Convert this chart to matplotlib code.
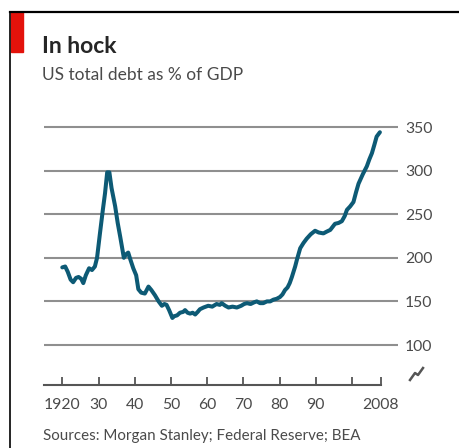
import matplotlib
matplotlib.use("Agg")
import matplotlib.pyplot as plt
from matplotlib.lines import Line2D
from matplotlib.patches import Rectangle

# US total debt as % of GDP
years = [1920.0, 1920.8, 1921.5, 1922.3, 1923.0, 1923.8, 1924.5, 1925.2, 1925.8, 1926.5,
         1927.4, 1928.2, 1929.0, 1929.6, 1930.4, 1931.2, 1931.8, 1932.4, 1933.0, 1933.6,
         1934.6, 1935.3, 1936.0, 1937.0, 1937.6, 1938.2, 1938.8, 1939.6, 1940.4, 1941.0,
         1941.8, 1942.8, 1943.8, 1944.6, 1945.6, 1946.6, 1947.5, 1948.2, 1948.8, 1949.5,
         1950.4, 1950.9, 1951.7, 1952.5, 1953.4, 1953.9, 1954.6, 1955.3, 1956.0, 1956.7,
         1957.4, 1958.0, 1959.0, 1960.3, 1961.4, 1962.6, 1963.5, 1964.0, 1965.0, 1965.9,
         1967.0, 1968.2, 1969.4, 1970.2, 1971.0, 1972.0, 1973.0, 1973.7, 1974.6, 1975.5,
         1976.5, 1977.4, 1978.3, 1979.2, 1980.1, 1980.8, 1981.5, 1982.2, 1982.8, 1983.4,
         1984.3, 1984.8, 1985.7, 1986.6, 1987.5, 1988.6, 1989.8, 1990.8, 1992.1, 1993.0,
         1994.0, 1995.3, 1996.3, 1997.2, 1998.0, 1998.6, 1999.5, 2000.4, 2001.1, 2001.8,
         2003.0, 2004.1, 2004.8, 2005.5, 2006.2, 2006.8, 2007.7]
debt_pct = [189, 190, 184, 175, 172, 177, 178, 176, 171, 180,
            188, 186, 190, 200, 228, 255, 274, 298, 298, 280,
            259, 240, 224, 200, 204, 206, 198, 188, 180, 164,
            160, 159, 167, 163, 157, 150, 145, 147, 146, 140,
            131, 133, 134, 137, 138, 140, 137, 136, 137, 135,
            138, 141, 143, 145, 144, 147, 146, 148, 145, 143,
            144, 143, 145, 147, 148, 147, 149, 150, 148, 148,
            150, 150, 152, 153, 155, 158, 163, 166, 171, 178,
            190, 198, 211, 217, 222, 227, 231, 229, 228, 230,
            232, 239, 240, 242, 248, 255, 259, 264, 275, 285,
            296, 305, 313, 320, 330, 339, 344]

x_ticks = [1920, 1930, 1940, 1950, 1960, 1970, 1980, 1990, 2000, 2008]
x_tick_labels = ["1920", "30", "40", "50", "60", "70", "80", "90", "", "2008"]
y_ticks = [100, 150, 200, 250, 300, 350]
y_tick_labels = ["100", "150", "200", "250", "300", "350"]

title = "In hock"
subtitle = "US total debt as % of GDP"
source = "Sources: Morgan Stanley; Federal Reserve; BEA"

W, H = 459, 448
FONT = "Lato"
LINE_COLOR = "#0d5a75"
GRID_COLOR = "#8f8f8f"
TEXT_COLOR = "#4a4a4a"

fig = plt.figure(figsize=(W / 100, H / 100), dpi=100)
fig.patch.set_facecolor("white")


def fx(px):
    return px / W


def fy(py):
    return 1 - py / H


# plot area in pixel coordinates
left_px, right_px, top_px, bottom_px = 44, 398, 110, 385
ax = fig.add_axes([fx(left_px), fy(bottom_px),
                   (right_px - left_px) / W, (bottom_px - top_px) / H])

ax.plot(years, debt_pct, color=LINE_COLOR, lw=2.9,
        solid_joinstyle="round", solid_capstyle="round", zorder=3)

ax.set_xlim(1914.95, 2012.7)
ax.set_ylim(54.13, 369.5)

ax.set_yticks(y_ticks)
ax.set_yticklabels(y_tick_labels)
ax.yaxis.tick_right()
ax.tick_params(axis="y", length=0, pad=5, labelsize=11.3, labelcolor=TEXT_COLOR)
for lab in ax.get_yticklabels():
    lab.set_fontfamily(FONT)

ax.set_xticks(x_ticks)
ax.set_xticklabels(x_tick_labels)
ax.tick_params(axis="x", direction="in", length=6, width=1.3, color="#555555",
               pad=9, labelsize=11.3, labelcolor=TEXT_COLOR)
for lab in ax.get_xticklabels():
    lab.set_fontfamily(FONT)

ax.grid(axis="y", color=GRID_COLOR, lw=1.5)
ax.set_axisbelow(True)
for side in ["top", "right", "left"]:
    ax.spines[side].set_visible(False)
ax.spines["bottom"].set_bounds(1914.95, 2008)
ax.spines["bottom"].set_color("#555555")
ax.spines["bottom"].set_linewidth(1.5)
ax.set_facecolor("none")

# axis-break mark beside the x axis
brk_x = [fx(p) for p in (410, 415, 418, 423)]
brk_y = [fy(p) for p in (380, 373, 375, 368)]
fig.add_artist(Line2D(brk_x, brk_y, color="#555555", lw=1.8))

# frame, red tag
fig.add_artist(Line2D([fx(10), fx(459)], [fy(12), fy(12)], color="black", lw=1.6))
fig.add_artist(Line2D([fx(10), fx(10)], [fy(12), fy(448)], color="black", lw=1.2))
fig.add_artist(Rectangle((fx(11), fy(52)), 12 / W, 40 / H, color="#e3120b",
                         transform=fig.transFigure))

fig.text(fx(42), fy(53), title, fontsize=16.5, fontweight="bold", family=FONT,
         color="#262626", va="baseline")
fig.text(fx(42), fy(80), subtitle, fontsize=12.5, family=FONT,
         color=TEXT_COLOR, va="baseline")
fig.text(fx(43), fy(440), source, fontsize=10.9, family=FONT,
         color=TEXT_COLOR, va="baseline")

fig.savefig("out.png", dpi=100)
